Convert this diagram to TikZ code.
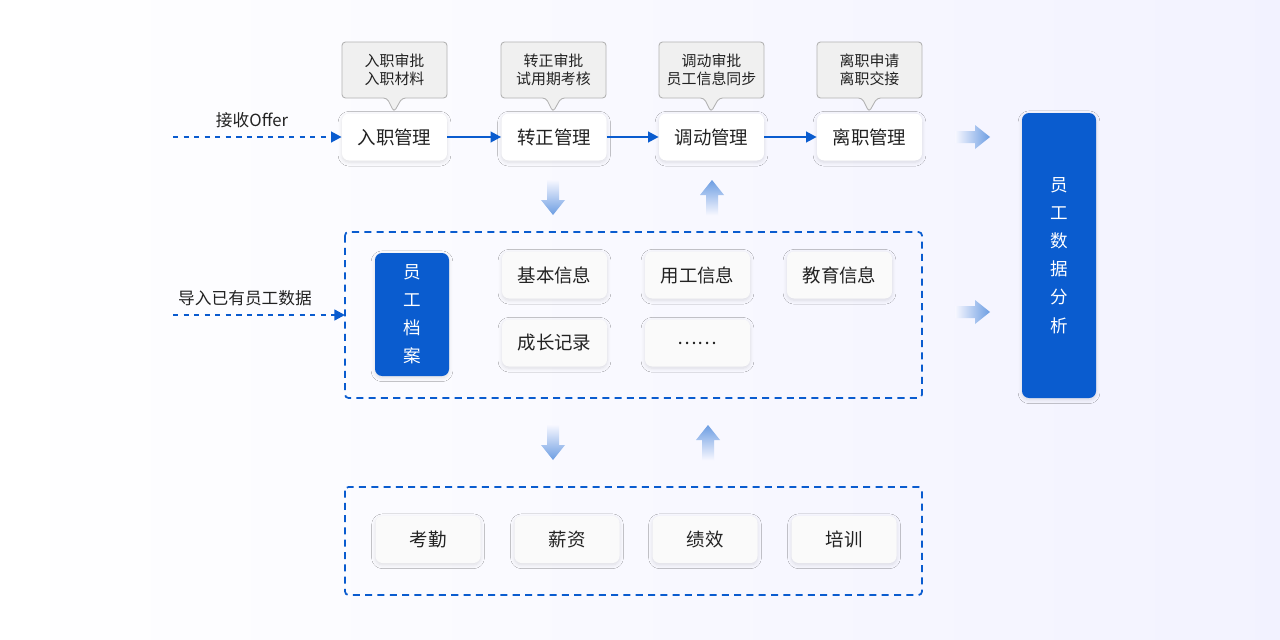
\documentclass[tikz,border=0pt]{standalone}
\usepackage{fontspec}
\setmainfont{Noto Sans CJK SC}
\usetikzlibrary{shadows.blur,arrows.meta}
\definecolor{myblue}{HTML}{0A5CCF}
\definecolor{txt}{HTML}{222222}
\begin{document}
\begin{tikzpicture}[x=0.02cm,y=-0.02cm,
 box/.style={draw=none,fill=white,rounded corners=4pt,minimum width=105*0.02cm,minimum height=47*0.02cm,font=\fontsize{10.5}{12}\selectfont,text=txt,blur shadow={shadow blur steps=6,shadow xshift=0pt,shadow yshift=-1pt,shadow opacity=12}},
 gbox/.style={box,fill=gray!4},
 call/.style={draw=gray!60,fill=gray!12,rounded corners=2pt,line width=0.5pt},
 dbox/.style={draw=myblue,dash pattern=on 4pt off 3pt,line width=1pt},
 con/.style={myblue,line width=1.3pt,-{Triangle[length=6pt,width=6pt]}},
 dcon/.style={con,dash pattern=on 3pt off 3pt}]
\useasboundingbox[shade,left color=white,right color=blue!5] (0,0) rectangle (1280,639);
% callouts
\foreach \x/\t [count=\i] in {342/入职审批\\入职材料,501/转正审批\\试用期考核,659/调动审批\\员工信息同步,817/离职申请\\离职交接}{
 \draw[call] (\x,42) -- (\x+105,42) -- (\x+105,98) -- (\x+60,98) -- (\x+52,112) -- (\x+45,98) -- (\x,98) -- cycle;
 \node[font=\fontsize{8.5}{10.5}\selectfont,text=txt,align=center] (c\i) at (\x+52.5,70) {\t};
}
\node[box] (a) at (394.5,137) {入职管理};
\node[box] (b) at (554,137) {转正管理};
\node[box] (c) at (711.5,137) {调动管理};
\node[box] (d) at (869.5,137) {离职管理};
\draw[con] (a) -- (b); \draw[con] (b) -- (c); \draw[con] (c) -- (d);
\coordinate (s1) at (173,137);
\draw[dcon] (s1) -- (a);
\node[font=\fontsize{9.5}{11}\selectfont,text=txt] (l1) at (252,120) {接收Offer};
% dashed boxes
\draw[dbox,rounded corners=2pt] (345,232) rectangle (922,398);
\coordinate (r1) at (345,315);
\draw[dbox,rounded corners=2pt] (345,487) rectangle (922,595);
\coordinate (s2) at (173,315);
\draw[dcon] (s2) -- (r1);
\node[font=\fontsize{9.5}{11}\selectfont,text=txt] (l2) at (245,298) {导入已有员工数据};
\node[box,fill=myblue,text=white,minimum width=74*0.02cm,minimum height=123*0.02cm,align=center,font=\fontsize{10}{16}\selectfont] (e) at (412,314.5) {员\\工\\档\\案};
\node[gbox] (f1) at (554.5,275) {基本信息};
\node[gbox] (f2) at (697.5,275) {用工信息};
\node[gbox] (f3) at (839.5,275) {教育信息};
\node[gbox] (f4) at (554.5,343) {成长记录};
\node[gbox] (f5) at (697.5,343) {……};
\node[gbox] (g1) at (428,539.5) {考勤};
\node[gbox] (g2) at (567,539.5) {薪资};
\node[gbox] (g3) at (705,539.5) {绩效};
\node[gbox] (g4) at (844,539.5) {培训};
\node[box,fill=myblue,text=white,minimum width=74*0.02cm,minimum height=285*0.02cm,align=center,font=\fontsize{10}{16}\selectfont] (z) at (1059,255.5) {员\\工\\数\\据\\分\\析};
% gradient arrows
\foreach \y in {137,312}{
 \shade[left color=blue!3,right color=myblue!60] (955,\y-6) -- (975,\y-6) -- (975,\y-12) -- (990,\y) -- (975,\y+12) -- (975,\y+6) -- (955,\y+6) -- cycle;}
\foreach \x/\ya/\yb in {553/180/215,553/425/460}{
 \shade[top color=blue!3,bottom color=myblue!60] (\x-6,\ya) -- (\x+6,\ya) -- (\x+6,\yb-15) -- (\x+12,\yb-15) -- (\x,\yb) -- (\x-12,\yb-15) -- (\x-6,\yb-15) -- cycle;}
\foreach \x/\ya/\yb in {712/215/180,708/460/425}{
 \shade[bottom color=blue!3,top color=myblue!60] (\x-6,\ya) -- (\x+6,\ya) -- (\x+6,\yb+15) -- (\x+12,\yb+15) -- (\x,\yb) -- (\x-12,\yb+15) -- (\x-6,\yb+15) -- cycle;}
\end{tikzpicture}
\end{document}
